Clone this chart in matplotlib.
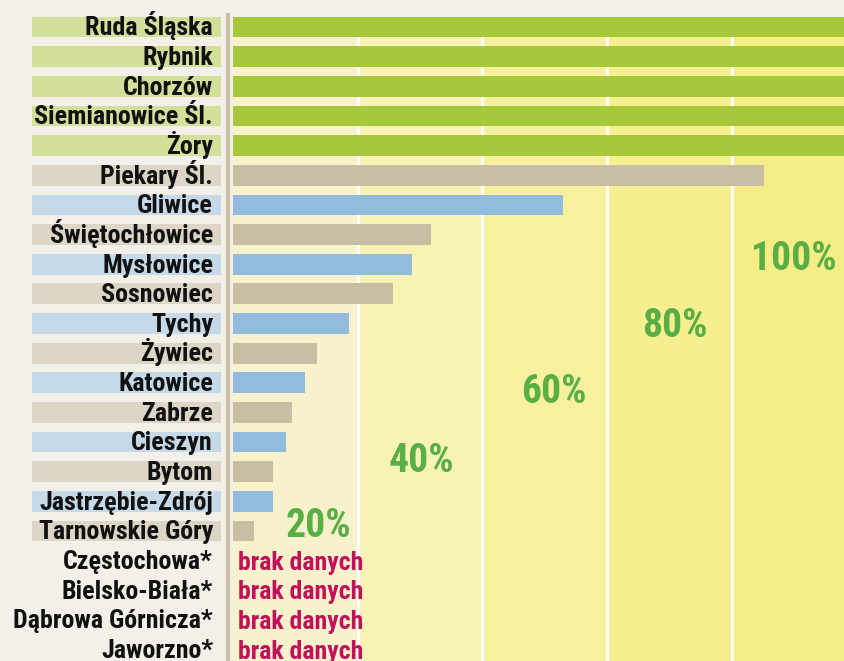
import matplotlib
matplotlib.use("Agg")
import matplotlib.pyplot as plt
import numpy as np

cities = ["Ruda Śląska", "Rybnik", "Chorzów", "Siemianowice Śl.", "Żory",
          "Piekary Śl.", "Gliwice", "Świętochłowice", "Mysłowice", "Sosnowiec",
          "Tychy", "Żywiec", "Katowice", "Zabrze", "Cieszyn", "Bytom",
          "Jastrzębie-Zdrój", "Tarnowskie Góry", "Częstochowa*", "Bielsko-Biała*",
          "Dąbrowa Górnicza*", "Jaworzno*"]
values = [100, 100, 100, 100, 100, 85.2, 52.9, 31.7, 28.7, 25.6, 18.6, 13.4,
          11.5, 9.4, 8.5, 6.4, 6.4, 3.3, None, None, None, None]
groups = ["g", "g", "g", "g", "g", "b", "u", "b", "u", "b", "u", "b", "u", "b",
          "u", "b", "u", "b", "n", "n", "n", "n"]
pct_labels = ["20%", "40%", "60%", "80%", "100%"]
pct_pos = [(13.7, 17.19), (30.3, 15.0), (51.4, 12.68), (70.9, 10.45), (90.0, 8.2)]

bar_col = {"g": "#a6c83a", "b": "#c8bea3", "u": "#93bbdd"}
strip_col = {"g": "#d3e09b", "b": "#ddd6c6", "u": "#c5d9e8"}
band_cols = ["#f8f2cc", "#f8f3b4", "#f7f09f", "#f6ef90", "#f5ed86"]

W, H = 844, 661
fig = plt.figure(figsize=(W / 100, H / 100), dpi=100)
fig.patch.set_facecolor("#f3f0ea")

FONT = ["Roboto Condensed", "DejaVu Sans"]

row0 = 27.0
step = 29.65
y_top_px = 17.0
n = len(cities)
ytop = (y_top_px - row0) / step
ybot = (H - row0) / step

x0_px = 233.0
px_per_pct = 6.235
xmax = (W - x0_px) / px_per_pct

ax = fig.add_axes([x0_px / W, 0, 1 - x0_px / W, (H - y_top_px) / H])
ax.set_xlim(0, xmax)
ax.set_ylim(ybot, ytop)
ax.axis("off")

for i, c in enumerate(band_cols):
    ax.axvspan(i * 20, (i + 1) * 20, color=c, zorder=0, lw=0)
for x in [20, 40, 60, 80]:
    ax.axvline(x, color="white", lw=2.2, zorder=1)

y = np.arange(n)
for yi, v, g in zip(y, values, groups):
    if v is None:
        ax.text(0.8, yi + 0.3, "brak danych", color="#c2105a", fontsize=18.5,
                fontweight="bold", family=FONT, va="baseline", ha="left", zorder=3)
    else:
        ax.barh(yi, v, height=0.7, color=bar_col[g], zorder=2, lw=0)

for lab, (px, py) in zip(pct_labels, pct_pos):
    ax.text(px, py, lab, color="#5aae46", fontsize=28.5, fontweight="bold",
            family=FONT, ha="center", va="baseline", zorder=3)

# left label panel
lax = fig.add_axes([0, 0, x0_px / W, (H - y_top_px) / H])
lax.set_xlim(0, x0_px)
lax.set_ylim(ybot, ytop)
lax.axis("off")
for yi, name, g in zip(y, cities, groups):
    if g in strip_col:
        lax.barh(yi, 189, left=32, height=0.7, color=strip_col[g], lw=0, zorder=1)
    lax.text(213, yi + 0.28, name, ha="right", va="baseline", fontsize=18.7,
             fontweight="bold", family=FONT, color="#111111", zorder=2)

lax.plot([228, 228], [ybot, (13 - row0) / step], color="#cbbfa6", lw=3,
         clip_on=False, zorder=3, solid_capstyle="butt")

fig.savefig("out.png", dpi=100, facecolor=fig.get_facecolor())
